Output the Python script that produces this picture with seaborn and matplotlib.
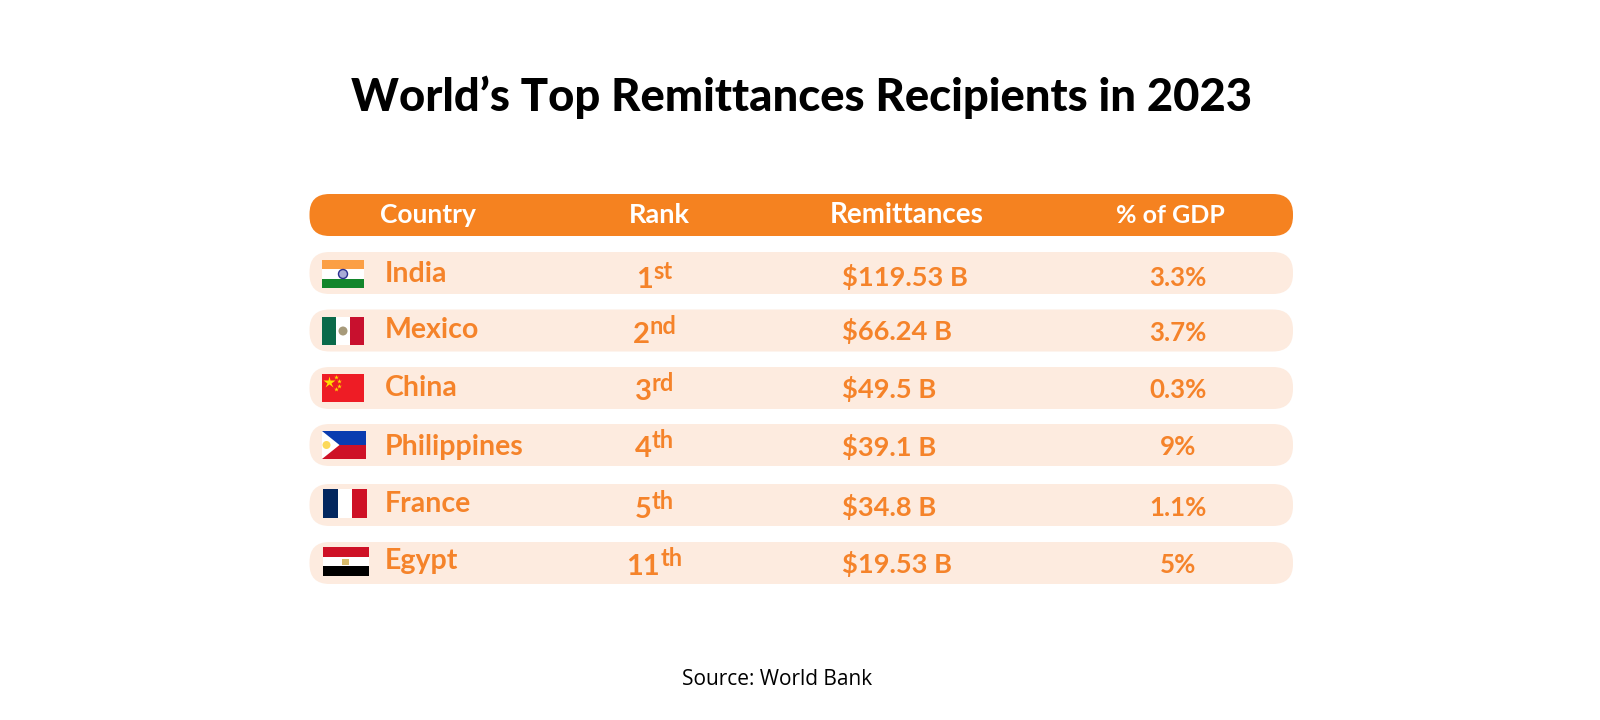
import matplotlib
matplotlib.use('Agg')
import matplotlib.pyplot as plt
import seaborn as sns
from matplotlib.patches import FancyBboxPatch, Rectangle, Polygon, Circle

# data
columns = ["Country", "Rank", "Remittances", "% of GDP"]
countries = ["India", "Mexico", "China", "Philippines", "France", "Egypt"]
rank_nums = ["1", "2", "3", "4", "5", "11"]
rank_sups = ["st", "nd", "rd", "th", "th", "th"]
remittances = ["$119.53 B", "$66.24 B", "$49.5 B", "$39.1 B", "$34.8 B", "$19.53 B"]
gdp_share = ["3.3%", "3.7%", "0.3%", "9%", "1.1%", "5%"]

# layout, in image pixels
row_tops = [252, 309.5, 367, 424, 484, 542]
country_base = [282.5, 338, 395.5, 455.5, 512.5, 569.5]
rank_base = [288, 343, 400, 457, 518, 575]
value_base = [286, 340, 398, 456, 516, 573]
pct_base = [286, 341, 398, 455, 516, 573]
flag_boxes = [(322, 260, 42, 28), (322, 317, 42, 28), (322, 374, 42, 28),
              (322, 431, 43.5, 28), (323, 489, 44, 29), (323, 547, 45.5, 29)]
header_x = [428, 659, 907, 1170]
header_size = [19, 19.5, 20, 18]

ORANGE = "#F58220"
TEXT_ORANGE = "#F5832A"
PALE = "#FDEBDF"
FONT = "Lato"

sns.set_theme(style="white")
plt.rcParams['font.family'] = [FONT, 'DejaVu Sans']

fig, ax = plt.subplots(figsize=(16, 7.2), dpi=100)
fig.subplots_adjust(0, 0, 1, 1)
ax.set_xlim(0, 1600)
ax.set_ylim(720, 0)
ax.axis('off')


def pill(y, color):
    ax.add_patch(FancyBboxPatch((309.5, y), 983.5, 42, boxstyle="round,pad=0,rounding_size=20",
                                fc=color, ec="none"))


def stripes_h(box, colors):
    x, y, w, h = box
    for i, c in enumerate(colors):
        ax.add_patch(Rectangle((x, y + i * h / 3), w, h / 3, fc=c, ec="none", zorder=3))


def stripes_v(box, colors):
    x, y, w, h = box
    for i, c in enumerate(colors):
        ax.add_patch(Rectangle((x + i * w / 3, y), w / 3, h, fc=c, ec="none", zorder=3))


def draw_flag(name, box):
    x, y, w, h = box
    cx, cy = x + w / 2, y + h / 2
    if name == "India":
        stripes_h(box, ["#FB9F45", "#FFFFFF", "#13862B"])
        ax.add_patch(Circle((cx, cy), 4.5, fc="#A9ABD6", ec="#2A2F8F", lw=1, zorder=4))
    elif name == "Mexico":
        stripes_v(box, ["#0B6A4A", "#FFFFFF", "#C8102E"])
        ax.add_patch(Circle((cx, cy), 4.5, fc="#A79A7A", ec="none", zorder=4))
    elif name == "China":
        ax.add_patch(Rectangle((x, y), w, h, fc="#EE1C25", ec="none", zorder=3))
        ax.plot([x + 7], [y + 8], marker="*", ms=9, color="#FFDE00", mec="none", zorder=4)
        ax.plot([x + 14, x + 17, x + 17, x + 14], [y + 3, y + 7, y + 12, y + 15], ls="none",
                marker="*", ms=3.5, color="#FFDE00", mec="none", zorder=4)
    elif name == "Philippines":
        ax.add_patch(Rectangle((x, y), w, h / 2, fc="#0A3CB0", ec="none", zorder=3))
        ax.add_patch(Rectangle((x, y + h / 2), w, h / 2, fc="#CE1126", ec="none", zorder=3))
        ax.add_patch(Polygon([(x, y), (x + 17.5, cy), (x, y + h)], fc="#FFFFFF", ec="none", zorder=4))
        ax.add_patch(Circle((x + 4.5, cy), 4, fc="#FCD95A", ec="none", zorder=5))
    elif name == "France":
        stripes_v(box, ["#03275F", "#FFFFFF", "#CE1126"])
    elif name == "Egypt":
        stripes_h(box, ["#CE1126", "#FFFFFF", "#000000"])
        ax.add_patch(Rectangle((cx - 3.5, cy - 3), 7, 6, fc="#D8BC6C", ec="none", zorder=4))


ax.text(802, 111, "World’s Top Remittances Recipients in 2023", ha="center", va="baseline",
        fontsize=32.7, fontweight="black", color="black")

pill(194, ORANGE)
for x, label, size in zip(header_x, columns, header_size):
    ax.text(x, 223, label, ha="center", va="baseline", fontsize=size, fontweight="bold", color="white")

fig.canvas.draw()
renderer = fig.canvas.get_renderer()
for i, name in enumerate(countries):
    pill(row_tops[i], PALE)
    draw_flag(name, flag_boxes[i])
    ax.text(385, country_base[i], name, ha="left", va="baseline", fontsize=20.5, fontweight="bold", color=TEXT_ORANGE)

    # rank number plus raised suffix, centred together on the column
    num = ax.text(0, rank_base[i], rank_nums[i], ha="left", va="baseline", fontsize=21, fontweight="bold", color=TEXT_ORANGE)
    sup = ax.text(0, rank_base[i] - 9, rank_sups[i], ha="left", va="baseline", fontsize=17, fontweight="bold", color=TEXT_ORANGE)
    w_num = num.get_window_extent(renderer).width
    w_sup = sup.get_window_extent(renderer).width
    left = 654.5 - (w_num + w_sup) / 2
    num.set_x(left)
    sup.set_x(left + w_num)

    ax.text(842, value_base[i], remittances[i], ha="left", va="baseline", fontsize=19.6, fontweight="bold", color=TEXT_ORANGE)
    ax.text(1178, pct_base[i], gdp_share[i], ha="center", va="baseline", fontsize=18.6, fontweight="bold", color=TEXT_ORANGE)

ax.text(777, 685, "Source: World Bank", ha="center", va="baseline", fontsize=15, color="black", family="Open Sans")

fig.savefig("out.png", dpi=100, facecolor="white")
